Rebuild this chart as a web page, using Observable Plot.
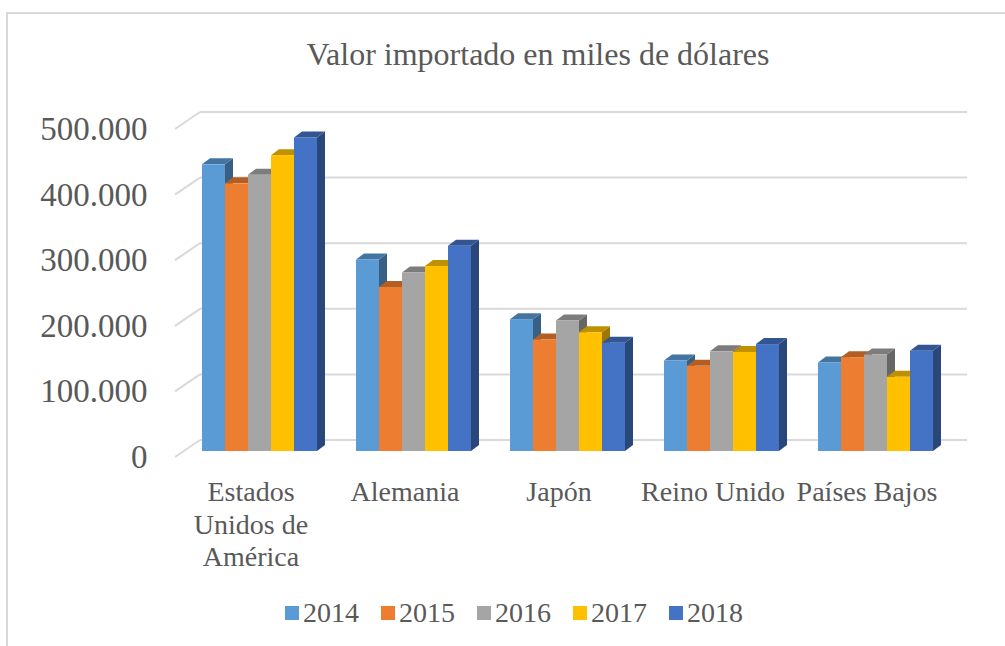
<!DOCTYPE html>
<html>
<head>
<meta charset="utf-8">
<script src="https://cdn.jsdelivr.net/npm/d3@7"></script>
<script src="https://cdn.jsdelivr.net/npm/@observablehq/plot@0.6"></script>
<style>
  body { margin: 0; background: #fff; font-family: "Liberation Serif", "Times New Roman", serif; color: #595959; }
  #marco { position: absolute; left: 6px; top: 12px; width: 1100px; height: 700px; border-left: 2px solid #d9d9d9; border-top: 2px solid #d9d9d9; }
  #titulo { position: absolute; left: 538px; top: 38px; transform: translateX(-50%); font-size: 32px; line-height: 32px; white-space: nowrap; }
  #grafico { position: absolute; left: 0; top: 80px; }
  #leyenda { position: absolute; left: 285px; top: 597px; display: flex; font-size: 28px; line-height: 32px; }
  .item { display: flex; align-items: center; margin-right: 22px; }
  .sw { width: 14px; height: 14px; margin-right: 4px; }
</style>
</head>
<body>
<div id="marco"></div>
<div id="titulo">Valor importado en miles de dólares</div>
<div id="grafico"></div>
<div id="leyenda"></div>
<script>
// ---- Datos ----
const paises = ["Estados Unidos de América", "Alemania", "Japón", "Reino Unido", "Países Bajos"];
const etiquetas = ["Estados\nUnidos de\nAmérica", "Alemania", "Japón", "Reino Unido", "Países Bajos"];
const anios = ["2014", "2015", "2016", "2017", "2018"];
const v2014 = [437000, 292000, 201000, 138000, 135000];
const v2015 = [408000, 250000, 170000, 130000, 143000];
const v2016 = [421000, 272000, 199000, 152000, 147000];
const v2017 = [451000, 282000, 181000, 151000, 113000];
const v2018 = [478000, 313000, 165000, 163000, 153000];
const ticksY = [0, 100000, 200000, 300000, 400000, 500000];

// ---- Estilo ----
const colores = ["#5B9BD5", "#ED7D31", "#A5A5A5", "#FFC000", "#4472C4"];
const PROF_X = 8, PROF_Y = 6;

const series = [v2014, v2015, v2016, v2017, v2018];
const datos = [];
paises.forEach((p, i) => anios.forEach((a, j) => datos.push({pais: p, anio: a, valor: series[j][i]})));

const fmt = d3.formatLocale({decimal: ",", thousands: ".", grouping: [3], currency: ["", ""]}).format(",");

function caras(tipo) {
  return (index, scales, values) => {
    const bw = scales.x.bandwidth();
    const g = d3.create("svg:g");
    const k = tipo === "lado" ? 0.62 : 0.75;
    for (const i of index) {
      const xa = values.x[i], xb = xa + bw;
      const yb = Math.max(values.y1[i], values.y2[i]);
      const yt = Math.min(values.y1[i], values.y2[i]);
      const c = d3.rgb(values.fill[i]);
      const col = d3.rgb(c.r * k, c.g * k, c.b * k).formatHex();
      const pts = tipo === "lado"
        ? [[xb, yb], [xb + PROF_X, yb - PROF_Y], [xb + PROF_X, yt - PROF_Y], [xb, yt]]
        : [[xa, yt], [xa + PROF_X, yt - PROF_Y], [xb + PROF_X, yt - PROF_Y], [xb, yt]];
      g.append("polygon").attr("points", pts.map(p => p.join(",")).join(" ")).attr("fill", col);
    }
    return g.node();
  };
}

// Pared del fondo (líneas de rejilla) y pared izquierda (diagonales), a partir de la escala y
function paredes(index, scales, values, dims) {
  const g = d3.create("svg:g").attr("aria-label", "paredes").attr("stroke", "#d9d9d9").attr("stroke-width", 2).attr("fill", "none");
  const xl = dims.marginLeft, xr = dims.width - dims.marginRight;
  for (const t of ticksY) {
    const y = scales.y(t);
    g.append("line").attr("x1", xl).attr("y1", y - 11).attr("x2", xr + 32).attr("y2", y - 11);
    g.append("line").attr("x1", xl - 25).attr("y1", y + 6).attr("x2", xl).attr("y2", y - 11);
  }
  return g.node();
}

const chart = Plot.plot({
  width: 1005,
  height: 515,
  marginLeft: 200,
  marginRight: 70,
  marginTop: 43,
  marginBottom: 144,
  style: {fontFamily: "Liberation Serif, Times New Roman, serif", color: "#595959", background: "transparent", overflow: "visible"},
  fx: {domain: paises, padding: 0.2285, axis: null, label: null},
  x: {domain: anios, padding: 0, axis: null},
  y: {domain: [0, 500000], label: null},
  color: {domain: anios, range: colores},
  marks: [
    Plot.frame({facet: "super", stroke: "none", render: paredes}),
    Plot.axisY(ticksY, {tickSize: 0, tickPadding: 53, dy: 6, fontSize: 33, tickFormat: fmt, label: null, fill: "#595959"}),
    Plot.barY(datos, {fx: "pais", x: "anio", y: "valor", fill: "anio", render: caras("lado")}),
    Plot.barY(datos, {fx: "pais", x: "anio", y: "valor", fill: "anio", render: caras("tapa")}),
    Plot.barY(datos, {fx: "pais", x: "anio", y: "valor", fill: "anio"}),
    Plot.text(paises, {fx: d => d, text: etiquetas, frameAnchor: "bottom", lineAnchor: "top", dy: 27, dx: -9, fontSize: 28, lineHeight: 1.15, fill: "#595959"})
  ]
});

// Las paredes van detrás de las barras
const primero = chart.querySelector("style") ? chart.querySelector("style").nextSibling : chart.firstChild;
const pared = chart.querySelector('[aria-label="paredes"]');
if (pared) chart.insertBefore(pared, primero);
document.getElementById("grafico").appendChild(chart);

// Leyenda
const ley = d3.select("#leyenda");
anios.forEach((a, j) => {
  const it = ley.append("div").attr("class", "item");
  it.append("span").attr("class", "sw").style("background", colores[j]);
  it.append("span").text(a);
});
</script>
</body>
</html>
